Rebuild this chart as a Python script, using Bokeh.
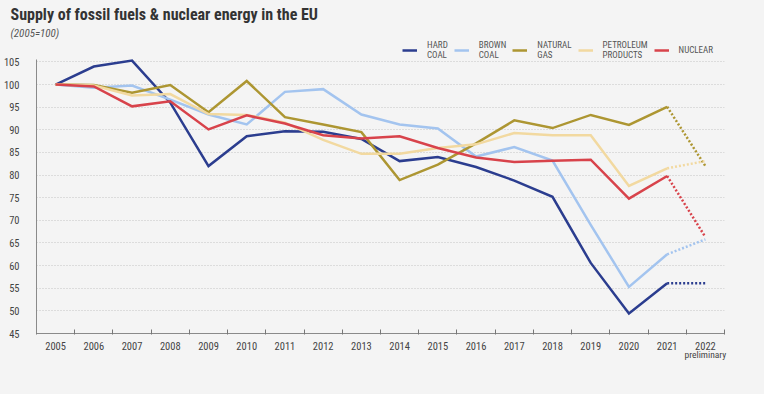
from bokeh.plotting import figure
from bokeh.models import Range1d, FixedTicker, Legend, LegendItem, Title, LinearAxis
from bokeh.embed import file_html
from bokeh.resources import INLINE

years = list(range(2005, 2023))
hard_coal = [100, 104.0, 105.3, 96.0, 82.0, 88.6, 89.7, 89.6, 88.0, 83.1, 84.0, 81.8, 78.8, 75.2, 60.6, 49.4, 56.1, 56.1]
brown_coal = [100, 99.3, 99.8, 96.7, 93.4, 91.2, 98.4, 99.0, 93.4, 91.2, 90.3, 84.1, 86.2, 83.2, 69.0, 55.3, 62.5, 65.8]
natural_gas = [100, 99.9, 98.2, 99.9, 93.9, 100.8, 92.8, 91.2, 89.5, 78.9, 82.3, 87.0, 92.1, 90.4, 93.3, 91.1, 95.1, 82.0]
petroleum = [100, 99.8, 97.6, 97.9, 93.5, 93.3, 91.6, 87.8, 84.7, 84.7, 86.0, 86.8, 89.3, 88.8, 88.8, 77.6, 81.5, 83.1]
nuclear = [100, 99.6, 95.2, 96.3, 90.1, 93.2, 91.4, 88.8, 88.1, 88.6, 86.0, 83.9, 82.9, 83.2, 83.4, 74.8, 79.8, 66.3]

series_names = ["HARD\nCOAL", "BROWN\nCOAL", "NATURAL\nGAS", "PETROLEUM\nPRODUCTS", "NUCLEAR"]
series_values = [hard_coal, brown_coal, natural_gas, petroleum, nuclear]
series_colors = ["#2b3d8f", "#a3c4ef", "#ad9632", "#f2d9a0", "#d8434b"]
y_ticks = list(range(45, 106, 5))
last_label = "preliminary"

BG = "#f4f4f4"
FONT = "Roboto Condensed, DejaVu Sans Condensed, Liberation Sans Narrow, Roboto"

p = figure(width=748, height=394, output_backend="svg", toolbar_location=None,
           x_range=Range1d(2004.5, 2022.5), y_range=Range1d(45, 109.97),
           min_border_left=30, min_border_right=24, min_border_top=39, min_border_bottom=61,
           background_fill_color=BG, border_fill_color=BG, outline_line_color=None)

items = []
for name, vals, col in zip(series_names, series_values, series_colors):
    r = p.line(years[:-1], vals[:-1], line_color=col, line_width=2.5, line_join="miter")
    p.line(years[-2:], vals[-2:], line_color=col, line_width=2.5, line_dash="2 2")
    items.append(LegendItem(label=name, renderers=[r]))

legend = Legend(items=items, orientation="horizontal", location=(366, 273),
                padding=0, margin=0, spacing=6, glyph_width=15, glyph_height=12,
                label_standoff=10, label_height=12,
                label_text_font=FONT, label_text_font_size="9px", label_text_color="#555555",
                label_text_line_height=0.85,
                background_fill_alpha=0, border_line_color=None)
p.add_layout(legend, "center")

p.add_layout(Title(text="(2005=100)", align="left", offset=-26, standoff=0,
                   text_font=FONT, text_font_size="11px", text_font_style="italic",
                   text_color="#555555"), "above")
p.add_layout(Title(text="Supply of fossil fuels & nuclear energy in the EU", align="left",
                   offset=-26, standoff=2, text_font=FONT, text_font_size="16px",
                   text_font_style="bold", text_color="#333333"), "above")

# grid
p.xgrid.grid_line_color = None
p.ygrid.ticker = FixedTicker(ticks=y_ticks)
p.ygrid.grid_line_color = "#c4c4c4"
p.ygrid.grid_line_dash = "1 2"
p.ygrid.grid_line_width = 1

# y axis
p.yaxis.ticker = FixedTicker(ticks=y_ticks)
p.yaxis.bounds = (45, 105.6)
p.yaxis.major_tick_line_color = None
p.yaxis.minor_tick_line_color = None
p.yaxis.axis_line_color = "#8a8a8a"
p.yaxis.major_label_text_font = FONT
p.yaxis.major_label_text_font_size = "10.5px"
p.yaxis.major_label_text_color = "#444444"
p.yaxis.major_label_standoff = 11

# x axis: labels at year centres, tick marks between years
p.xaxis.ticker = FixedTicker(ticks=years, minor_ticks=[y - 0.5 for y in years] + [years[-1] + 0.5])
p.xaxis.major_tick_line_color = None
p.xaxis.minor_tick_line_color = "#777777"
p.xaxis.minor_tick_in = 4
p.xaxis.minor_tick_out = 1
p.xaxis.axis_line_color = "#8a8a8a"
p.xaxis.major_label_text_font = FONT
p.xaxis.major_label_text_font_size = "10.5px"
p.xaxis.major_label_text_color = "#444444"
p.xaxis.major_label_standoff = 2

# second line under the last year's label
sub_axis = LinearAxis(ticker=FixedTicker(ticks=[years[-1]]),
                      major_label_overrides={years[-1]: last_label},
                      axis_line_color=None, major_tick_line_color=None, minor_tick_line_color=None,
                      major_label_standoff=-10, major_label_text_font=FONT,
                      major_label_text_font_size="9.5px", major_label_text_color="#444444")
p.add_layout(sub_axis, "below")

html = file_html(p, INLINE)
html = html.replace("</head>", "<style>html,body{background:%s !important;}</style></head>" % BG, 1)
open("out.html", "w").write(html)
